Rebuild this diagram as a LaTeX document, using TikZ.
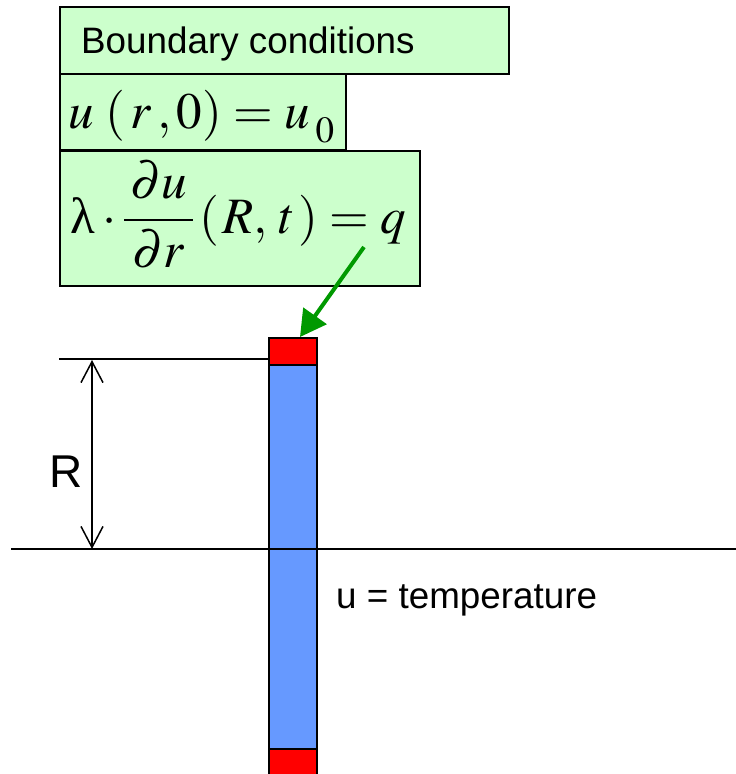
\documentclass[tikz,border=0pt]{standalone}
\usepackage{mathptmx}
\usepackage{fontspec}
\setmainfont{Liberation Sans}
\newfontfamily\serifgreek{Liberation Serif}
\usetikzlibrary{arrows.meta}
\definecolor{boxgreen}{RGB}{204,255,204}
\definecolor{barblue}{RGB}{102,153,255}
\definecolor{arrowgreen}{RGB}{0,153,0}
\tikzset{
  px/.style={x=1pt,y=-1pt},
  bcbox/.style={draw=black, line width=1.5pt, fill=boxgreen, inner sep=0pt, anchor=north west},
  lbl/.style={inner sep=0pt, font=\fontsize{36.8}{40}\selectfont},
  eq/.style={inner sep=0pt, font=\fontsize{51}{55}\selectfont, anchor=base west},
  barpart/.style={draw=black, line width=2pt},
  thin/.style={line width=1.5pt},
}
\begin{document}
\begin{tikzpicture}[px]
\useasboundingbox (0,0) rectangle (736,774);
% boxes
\node[bcbox, minimum width=449pt, minimum height=67pt] (b1) at (59,6) {};
\node[lbl, anchor=base west] (t1) at (81,53) {Boundary conditions};
\node[bcbox, minimum width=286pt, minimum height=76pt] (b2) at (59,73) {};
\node[eq] (t2) at (68,128) {$u\;(\,r\,,0)=u\mkern2mu\raisebox{-14pt}{\fontsize{37}{40}\selectfont$0$}$};
\node[bcbox, minimum width=360pt, minimum height=135pt] (b3) at (59,150) {};
\node[eq] (t3) at (70,233) {$\displaystyle\mbox{\serifgreek λ}\cdot\frac{\,\partial u\,}{\partial r}\mkern2mu(\mkern1mu R,\,t\mkern1mu)=q$};
% bar
\node[barpart, fill=red, minimum width=48pt, minimum height=27pt, inner sep=0pt, anchor=north west] (top) at (268,337) {};
\node[barpart, fill=barblue, minimum width=48pt, minimum height=384pt, inner sep=0pt, anchor=north west] (bar) at (268,364) {};
\node[barpart, fill=red, minimum width=48pt, minimum height=30pt, inner sep=0pt, anchor=north west] (bot) at (268,748) {};
% lines
\coordinate (ax1) at (11,549);
\coordinate (ax2) at (736,549);
\draw[thin] (ax1) -- (ax2);
\coordinate (rl) at (59,359);
\draw[thin] (rl) -- (top.west |- rl);
\coordinate (d1) at (92,360);
\coordinate (d2) at (92,549);
\draw[thin, {Straight Barb[length=21pt,width=22pt,line width=1.5pt]}-{Straight Barb[length=21pt,width=22pt,line width=1.5pt]}] (d1) -- (d2);
\node[lbl, font=\fontsize{46}{50}\selectfont, anchor=base] (R) at (66,487) {R};
\node[lbl, anchor=base west] (ut) at (336,608) {u = temperature};
% green arrow
\coordinate (gs) at (364,247);
\draw[arrowgreen, line width=4pt, -{Triangle[length=26pt,width=28pt]}] (gs) -- (top.north -| 300,0);
\end{tikzpicture}
\end{document}
